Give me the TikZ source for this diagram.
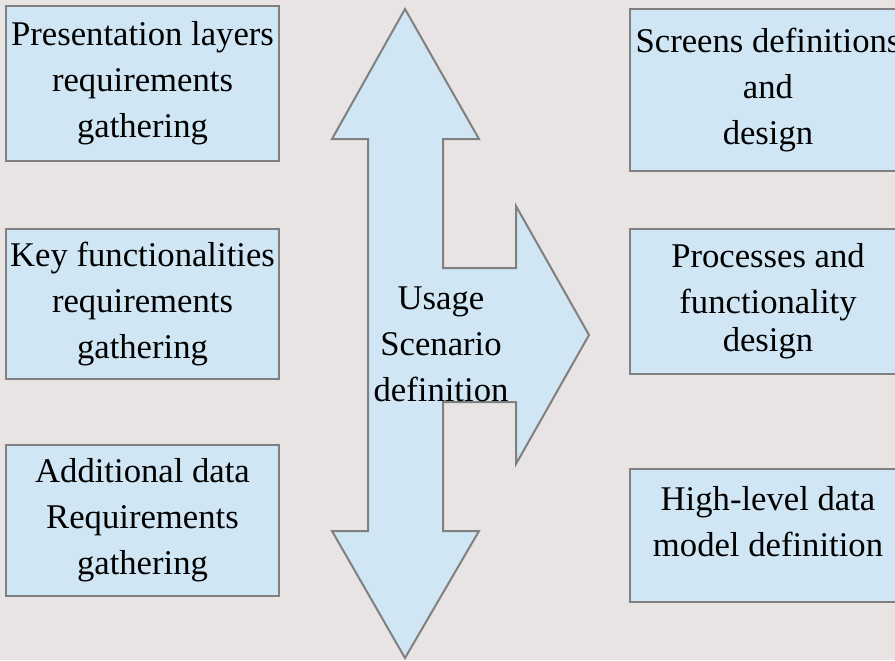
\documentclass[tikz,border=0pt]{standalone}
\usepackage{fontspec}
\setmainfont{Liberation Serif}
\definecolor{bgcol}{HTML}{E8E4E3}
\definecolor{boxfill}{HTML}{D0E6F4}
\definecolor{boxline}{HTML}{808080}
\tikzset{
  stagebox/.style={draw=boxline,fill=boxfill,line width=1.5pt,align=center,inner sep=0pt,
    font=\fontsize{26}{34.5}\selectfont},
  stagetext/.style={align=center,inner sep=0pt,font=\fontsize{26}{34.5}\selectfont},
}
\begin{document}
\begin{tikzpicture}[x=0.75pt,y=-0.75pt]
  \fill[bgcol] (0,0) rectangle (895,660);
  \useasboundingbox (0,0) rectangle (895,660);
  % big double arrow with the side branch
  \draw[draw=boxline,fill=boxfill,line width=1.5pt,line join=miter]
    (405,9) -- (479,139) -- (443,139) -- (443,268) -- (516,268) -- (516,206)
    -- (589,335) -- (516,464) -- (516,402) -- (443,402) -- (443,531) -- (479,531)
    -- (405,658) -- (332,531) -- (368,531) -- (368,139) -- (332,139) -- cycle;
  \node[stagetext] (usage) at (441,344) {Usage\\Scenario\\definition};
  % left column
  \node[stagebox,minimum width=204.75pt,minimum height=116.25pt] (presreq) at (142.5,83.5)
    {Presentation layers\\requirements\\gathering};
  \node[stagebox,minimum width=204.75pt,minimum height=112.5pt] (keyreq) at (142.5,304)
    {Key functionalities\\requirements\\gathering};
  \node[stagebox,minimum width=204.75pt,minimum height=113.25pt] (datareq) at (142.5,520.5)
    {Additional data\\Requirements\\gathering};
  % right column
  \node[stagebox,minimum width=207pt,minimum height=121.5pt] (screens) at (768,90)
    {Screens definitions\\and\\design};
  \node[stagebox,minimum width=207pt,minimum height=108.75pt] (procs) at (768,301.5)
    {Processes and\\functionality\\[-6pt]design};
  \node[stagebox,minimum width=207pt,minimum height=99.75pt] (datamodel) at (768,535.5) {};
  \node[stagetext] (datamodeltext) at (768,522) {High-level data\\model definition};
\end{tikzpicture}
\end{document}
